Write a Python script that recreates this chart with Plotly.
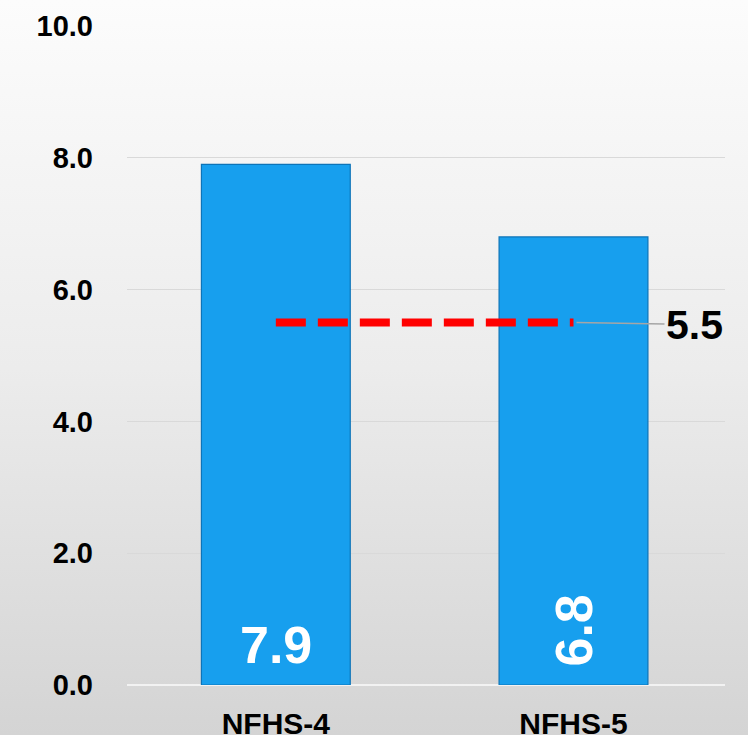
import base64
import plotly.graph_objects as go

# ---- data ----
categories = ["NFHS-4", "NFHS-5"]
values = [7.9, 6.8]
label_angles = [0, -90]
reference_values = [5.5, 5.5]
reference_label = "5.5"
y_tickvals = [0, 2, 4, 6, 8, 10]

W, H = 748, 735
ML, MR, MT, MB = 127, 23, 26, 50

FONT = "Liberation Sans, Arial, sans-serif"

fig = go.Figure()

fig.add_trace(go.Bar(
    x=categories, y=values, width=0.5,
    marker=dict(color="#179fee", line=dict(color="#0d74b8", width=1.2)),
    hoverinfo="skip", showlegend=False,
))

fig.add_trace(go.Scatter(
    x=categories, y=reference_values, mode="lines",
    line=dict(color="#ff0000", width=8, dash="30px,12px"),
    hoverinfo="skip", showlegend=False,
))

# data labels on bars
annotations = []
for c, v, a in zip(categories, values, label_angles):
    annotations.append(dict(
        x=c, y=0, xref="x", yref="y", text=f"{v:.1f}", showarrow=False,
        textangle=a, yanchor="bottom", xanchor="center",
        yshift=9 if a == 0 else 16,
        font=dict(family=FONT, size=52, color="white", weight="bold"),
    ))
# reference line label with leader
annotations.append(dict(
    x=categories[-1], y=reference_values[-1], xref="x", yref="y",
    text=reference_label, showarrow=True, arrowhead=0, arrowwidth=1.5,
    arrowcolor="#a6a6a6", ax=121, ay=2, standoff=3,
    font=dict(family=FONT, size=41, color="black", weight="bold"),
))

# background gradient (style only)
svg = (
    f'<svg xmlns="http://www.w3.org/2000/svg" width="{W}" height="{H}" preserveAspectRatio="none">'
    '<defs><linearGradient id="g" x1="0" y1="0" x2="0" y2="1">'
    '<stop offset="0" stop-color="#fcfcfc"/>'
    '<stop offset="0.5" stop-color="#ececec"/>'
    '<stop offset="1" stop-color="#d4d4d4"/>'
    '</linearGradient></defs>'
    f'<rect width="{W}" height="{H}" fill="url(#g)"/></svg>'
)
src = "data:image/svg+xml;base64," + base64.b64encode(svg.encode()).decode()
pw, ph = W - ML - MR, H - MT - MB

fig.update_layout(
    width=W, height=H,
    margin=dict(l=ML, r=MR, t=MT, b=MB, pad=0),
    paper_bgcolor="#e8e8e8", plot_bgcolor="rgba(0,0,0,0)",
    bargap=0.5,
    annotations=annotations,
    images=[dict(
        source=src, xref="paper", yref="paper",
        x=-ML / pw, y=1 + MT / ph, sizex=W / pw, sizey=H / ph,
        xanchor="left", yanchor="top", sizing="stretch", layer="below",
    )],
    xaxis=dict(
        showgrid=False, showline=False, zeroline=False, ticks="",
        ticklabelstandoff=18, automargin=False,
        tickfont=dict(family=FONT, size=30, color="black", weight="bold"),
    ),
    yaxis=dict(
        range=[0, 10], tickvals=y_tickvals, tickformat=".1f",
        showgrid=True, gridcolor="#d9d9d9", gridwidth=1,
        zeroline=True, zerolinecolor="#f2f2f2", zerolinewidth=2,
        showline=False, ticks="", ticklabelstandoff=33, automargin=False,
        tickfont=dict(family=FONT, size=29, color="black", weight="bold"),
    ),
)

fig.write_html("out.html")
